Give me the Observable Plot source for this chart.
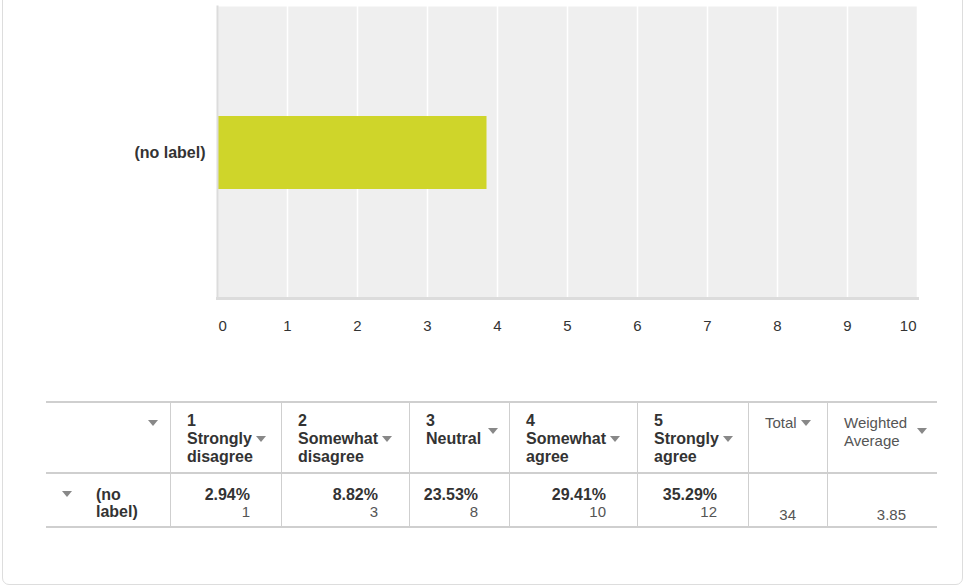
<!DOCTYPE html>
<html>
<head>
<meta charset="utf-8">
<script src="https://cdn.jsdelivr.net/npm/d3@7"></script>
<script src="https://cdn.jsdelivr.net/npm/@observablehq/plot@0.6"></script>
<style>
  html, body { margin: 0; padding: 0; background: #fff; }
  body { width: 964px; height: 586px; position: relative; overflow: hidden;
         font-family: "Liberation Sans", Arial, sans-serif; color: #333; }
  #frame { position: absolute; left: 2px; top: -20px; width: 961px; height: 605px;
           border: 1.5px solid #ddd; border-radius: 7px; box-sizing: border-box; }
  #chart { position: absolute; left: 0; top: 0; }
  #tbl { position: absolute; left: 46px; top: 401px; width: 891px;
         display: grid; grid-template-columns: 124px 111px 128px 100px 128px 111px 79px 110px;
         grid-template-rows: 71px 52px; border-top: 2px solid #cfcfcf; border-bottom: 2px solid #cfcfcf; }
  .c { position: relative; box-sizing: border-box; border-left: 1px solid #cfcfcf; }
  .c.first { border-left: none; }
  .h { border-bottom: 2px solid #cfcfcf; padding: 9px 8px 0 16px; font-size: 16px; line-height: 18px; font-weight: bold; color: #333; }
  .h.light { font-weight: normal; color: #555; font-size: 15px; padding-top: 11px; }
  .d { text-align: right; padding: 12px 31px 0 0; }
  .d .p { font-size: 16px; line-height: 17px; font-weight: bold; color: #333; }
  .d .n { font-weight: normal; color: #555; font-size: 15px; line-height: 17px; }
  .d.tot { font-weight: normal; color: #555; font-size: 15px; line-height: 17px; padding-top: 32px; }
  .rowlab { position: absolute; left: 50px; top: 12px; width: 60px; font-size: 16px; line-height: 17px; font-weight: bold; color: #333; text-align: left; }
  .caret { display: inline-block; width: 0; height: 0; border-left: 5.5px solid transparent; border-right: 5.5px solid transparent;
           border-top: 6px solid #888; vertical-align: middle; margin-left: 4px; position: relative; top: -1px; }
  .caret.abs { position: absolute; margin: 0; }
</style>
</head>
<body>
<div id="frame"></div>
<div id="chart"></div>
<div id="tbl"></div>
<script>
// ---- data ----
const categories = ["(no label)"];
const weightedAverage = [3.85];
const xTicks = [0, 1, 2, 3, 4, 5, 6, 7, 8, 9, 10];

const colNumbers = ["1", "2", "3", "4", "5"];
const colLabels = [["Strongly", "disagree"], ["Somewhat", "disagree"], ["Neutral"], ["Somewhat", "agree"], ["Strongly", "agree"]];
const percents = ["2.94%", "8.82%", "23.53%", "29.41%", "35.29%"];
const counts = [1, 3, 8, 10, 12];
const total = 34;
const rowLabel = "(no label)";

// ---- chart ----
const barData = categories.map((c, i) => ({category: c, value: weightedAverage[i]}));
const midTicks = xTicks.filter(t => t !== xTicks[0] && t !== xTicks[xTicks.length - 1]);

const plot = Plot.plot({
  width: 964,
  height: 350,
  marginLeft: 217,
  marginRight: 47,
  marginTop: 6,
  marginBottom: 52,
  style: {fontFamily: "'Liberation Sans', Arial, sans-serif", background: "transparent"},
  x: {domain: [0, 10], axis: null},
  y: {domain: categories, paddingInner: 0, paddingOuter: 1.473, label: null},
  marks: [
    Plot.frame({fill: "#efefef", stroke: null}),
    Plot.ruleX(xTicks, {stroke: "#ffffff", strokeWidth: 1.5}),
    Plot.barX(barData, {x: "value", y: "category", fill: "#cfd52a"}),
    Plot.frame({anchor: "bottom", stroke: "#dcdcdc", strokeWidth: 3}),
    Plot.frame({anchor: "left", stroke: "#dcdcdc", strokeWidth: 2}),
    Plot.axisY({tickSize: 0, tickPadding: 12, fontSize: 16, fontWeight: "bold", color: "#333", label: null}),
    Plot.text(midTicks, {x: d => d, frameAnchor: "bottom", dy: 32, fontSize: 15, fill: "#333"}),
    Plot.text([xTicks[0]], {x: d => d, frameAnchor: "bottom", dy: 32, dx: 1, textAnchor: "start", fontSize: 15, fill: "#333"}),
    Plot.text([xTicks[xTicks.length - 1]], {x: d => d, frameAnchor: "bottom", dy: 32, dx: -1, textAnchor: "end", fontSize: 15, fill: "#333"})
  ]
});
document.getElementById("chart").appendChild(plot);

// ---- table ----
const tbl = document.getElementById("tbl");
function cell(cls, html) {
  const d = document.createElement("div");
  d.className = "c " + cls;
  d.innerHTML = html;
  tbl.appendChild(d);
  return d;
}
const caret = '<span class="caret"></span>';
// header
cell("h first", '<span class="caret abs" style="right:12px;top:17px"></span>');
colNumbers.forEach((num, i) => {
  const lab = colLabels[i];
  let html;
  if (lab.length === 2) {
    html = num + "<br>" + lab[0] + caret + "<br>" + lab[1];
  } else {
    html = num + "<br>" + lab[0] + '<span class="caret abs" style="right:11px;top:25px"></span>';
  }
  cell("h", html);
});
cell("h light", "Total" + caret);
cell("h light", "Weighted<br>Average" + '<span class="caret abs" style="right:10px;top:25px"></span>');
// data row
cell("d first", '<span class="caret abs" style="left:16px;top:17px"></span><div class="rowlab">' + rowLabel + '</div>');
percents.forEach((p, i) => {
  cell("d", '<div class="p">' + p + '</div><div class="n">' + counts[i] + '</div>');
});
cell("d tot", String(total));
cell("d tot", weightedAverage[0].toFixed(2));
</script>
</body>
</html>
